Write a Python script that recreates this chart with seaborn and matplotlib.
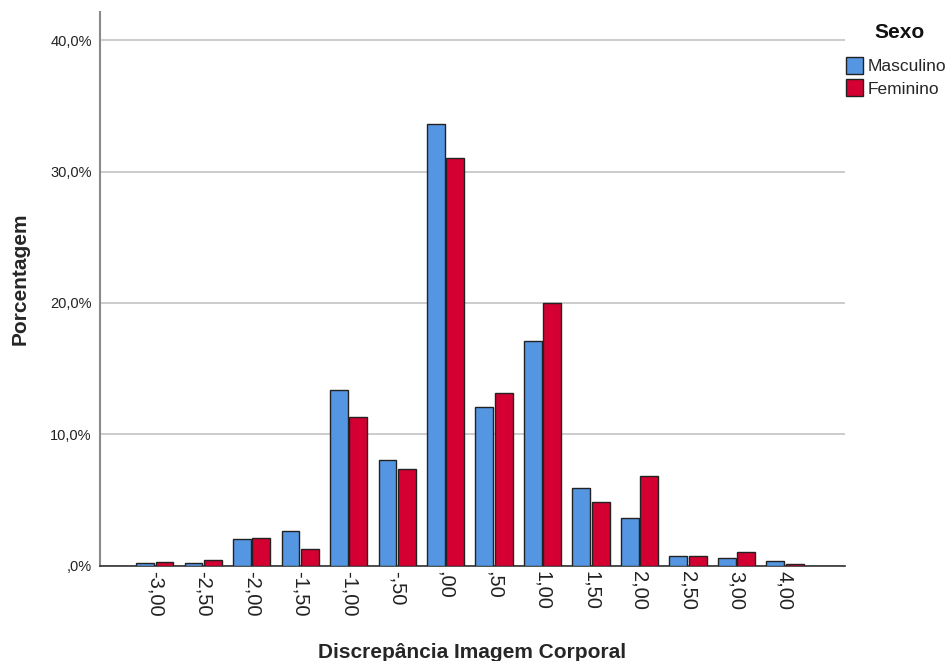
import numpy as np
import pandas as pd
import matplotlib
matplotlib.use("Agg")
import matplotlib.pyplot as plt
from matplotlib.ticker import FuncFormatter
from matplotlib.patches import Patch
import seaborn as sns

# Data (percent within each sex)
categorias = ["-3,00", "-2,50", "-2,00", "-1,50", "-1,00", "-,50", ",00",
              ",50", "1,00", "1,50", "2,00", "2,50", "3,00", "4,00"]
masculino = [0.2, 0.2, 2.0, 2.6, 13.4, 8.0, 33.6, 12.1, 17.1, 5.9, 3.6, 0.75, 0.6, 0.35]
feminino = [0.3, 0.4, 2.1, 1.25, 11.3, 7.35, 31.0, 13.1, 20.0, 4.8, 6.8, 0.75, 1.0, 0.15]
sexos = ["Masculino", "Feminino"]
cores = {"Masculino": "#5596E2", "Feminino": "#D50032"}

df = pd.DataFrame({
    "cat": categorias * 2,
    "sexo": ["Masculino"] * len(categorias) + ["Feminino"] * len(categorias),
    "pct": masculino + feminino,
})

sns.set_style("white")
plt.rcParams["font.family"] = ["Liberation Sans", "DejaVu Sans"]

fig = plt.figure(figsize=(9.48, 6.61), dpi=100)
ax = fig.add_axes([100 / 948, 1 - 565.5 / 661, 745 / 948, 553.5 / 661])

sns.barplot(data=df, x="cat", y="pct", hue="sexo", order=categorias,
            hue_order=sexos, palette=cores, saturation=1, width=0.8, gap=0.08,
            errorbar=None, edgecolor="#222222", linewidth=1.0,
            legend=False, ax=ax, zorder=3)

ax.set_xlim(-1.13, 14.24)
ax.set_ylim(0, 42.15)
ax.set_yticks([0, 10, 20, 30, 40])
ax.yaxis.set_major_formatter(FuncFormatter(
    lambda v, p: ",0%" if v == 0 else f"{v:.1f}%".replace(".", ",")))
ax.grid(axis="y", color="#c4c4c4", linewidth=1.2, zorder=0)
ax.set_axisbelow(True)

for s in ["top", "right"]:
    ax.spines[s].set_visible(False)
ax.spines["left"].set_color("#8a8a8a")
ax.spines["left"].set_linewidth(1.5)
ax.spines["bottom"].set_color("#333333")
ax.spines["bottom"].set_linewidth(1.2)

ax.tick_params(axis="y", length=0, pad=6, labelsize=10.5, labelcolor="#222222")
ax.tick_params(axis="x", length=0, pad=4, labelsize=14.5, labelrotation=270,
               labelcolor="#222222")

ax.set_xlabel("Discrepância Imagem Corporal", fontsize=15, fontweight="bold")
ax.set_ylabel("Porcentagem", fontsize=15, fontweight="bold")
ax.xaxis.set_label_coords(0.5, -0.14)
ax.yaxis.set_label_coords(-0.095, 0.518)

# legend: title as separate text, entries below
fig.text(900 / 948, 1 - 33 / 661, "Sexo", fontsize=15, fontweight="bold",
         ha="center", va="center", color="#111111")
handles = [Patch(facecolor=cores[s], edgecolor="#222222", linewidth=1.0) for s in sexos]
leg = ax.legend(handles, sexos, loc="upper left",
                bbox_to_anchor=(846 / 948, 1 - 57 / 661),
                bbox_transform=fig.transFigure, frameon=False,
                fontsize=12.5, handlelength=1.0, handleheight=1.1,
                handletextpad=0.25, labelspacing=0.3, borderpad=0,
                borderaxespad=0)

fig.savefig("out.png", dpi=100)
